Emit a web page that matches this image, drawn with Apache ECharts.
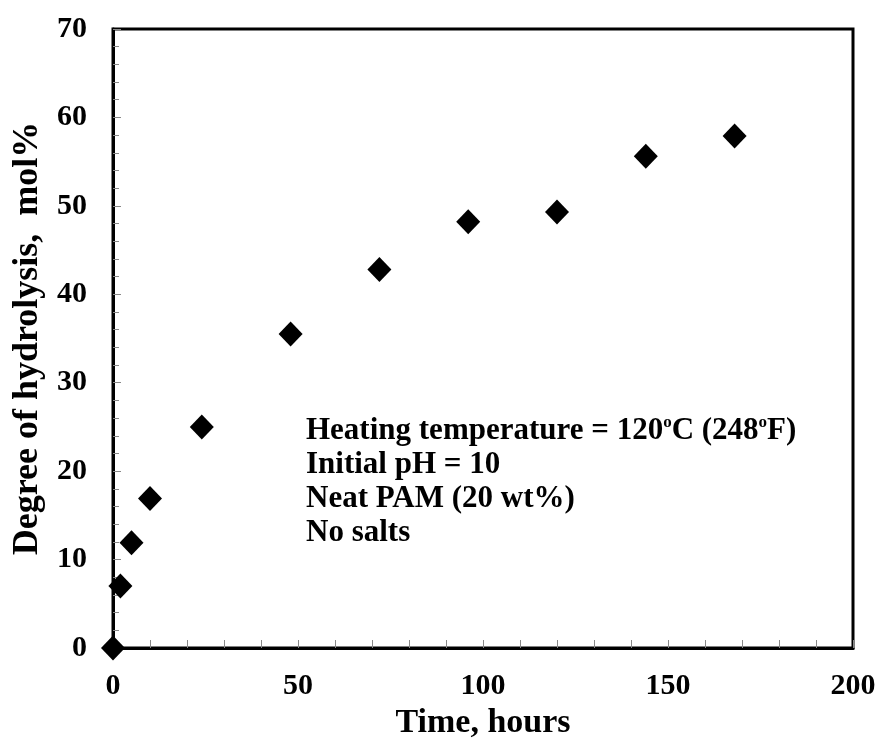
<!DOCTYPE html>
<html>
<head>
<meta charset="utf-8">
<script src="https://cdn.jsdelivr.net/npm/echarts@6/dist/echarts.min.js"></script>
<style>html,body{margin:0;padding:0;background:#fff}#chart{width:879px;height:753px}</style>
</head>
<body>
<div id="chart"></div>
<script>
// Hydrolysis of neat PAM at 120 °C, pH 10
const timeHours = [0, 2, 5, 10, 24, 48, 72, 96, 120, 144, 168];
const hydrolysisMolPct = [0, 7.0, 11.9, 16.9, 25.0, 35.5, 42.8, 48.2, 49.3, 55.6, 57.9];
const xTicks = [0, 50, 100, 150, 200];
const yTicks = [0, 10, 20, 30, 40, 50, 60, 70];

const FONT = '"Liberation Serif", "Times New Roman", serif';
const chart = echarts.init(document.getElementById('chart'));

const axisCommon = {
  axisLine: { show: true, lineStyle: { color: '#000', width: 3 } },
  axisTick: { show: true, inside: true, length: 8, lineStyle: { color: '#888', width: 1 } },
  minorTick: { show: true, splitNumber: 5, length: 6, lineStyle: { color: '#888', width: 1 } },
  splitLine: { show: false },
  axisLabel: { fontFamily: FONT, fontWeight: 'bold', fontSize: 30, color: '#000' }
};

chart.setOption({
  backgroundColor: '#fff',
  animation: false,
  grid: {
    left: 113, right: 26, top: 29, bottom: 105,
    outerBoundsMode: 'none', containLabel: false,
    show: true, borderColor: '#000', borderWidth: 3
  },
  xAxis: Object.assign({}, axisCommon, {
    type: 'value', min: xTicks[0], max: xTicks[xTicks.length - 1], interval: 50,
    minorTick: Object.assign({}, axisCommon.minorTick, { length: 8 }),
    axisLabel: Object.assign({}, axisCommon.axisLabel, { margin: 23 }),
    name: 'Time, hours', nameLocation: 'middle', nameGap: 56,
    nameTextStyle: { fontFamily: FONT, fontWeight: 'bold', fontSize: 34, color: '#000' }
  }),
  yAxis: Object.assign({}, axisCommon, {
    type: 'value', min: yTicks[0], max: yTicks[yTicks.length - 1], interval: 10,
    axisLabel: Object.assign({}, axisCommon.axisLabel, { margin: 26 }),
    name: 'Degree of hydrolysis,  mol%', nameLocation: 'middle', nameGap: 62,
    nameTextStyle: { fontFamily: FONT, fontWeight: 'bold', fontSize: 36, color: '#000' }
  }),
  series: [{
    type: 'scatter',
    data: timeHours.map((t, i) => [t, hydrolysisMolPct[i]]),
    symbol: 'diamond',
    symbolSize: [24, 25],
    itemStyle: { color: '#000', opacity: 1 },
    clip: false,
    z: 10
  }],
  graphic: [{
    type: 'text',
    left: 306,
    top: 414,
    style: {
      text: '{n|Heating temperature = 120}{s|o}{n|C (248}{s|o}{n|F)}\n{n|Initial pH = 10}\n{n|Neat PAM (20 wt%)}\n{n|No salts}',
      rich: {
        n: { fontFamily: FONT, fontWeight: 'bold', fontSize: 31, color: '#000', lineHeight: 34 },
        s: { fontFamily: FONT, fontWeight: 'bold', fontSize: 17, color: '#000', lineHeight: 34, verticalAlign: 'top', padding: [0, 0, 12, 0] }
      }
    }
  }]
});
</script>
</body>
</html>
